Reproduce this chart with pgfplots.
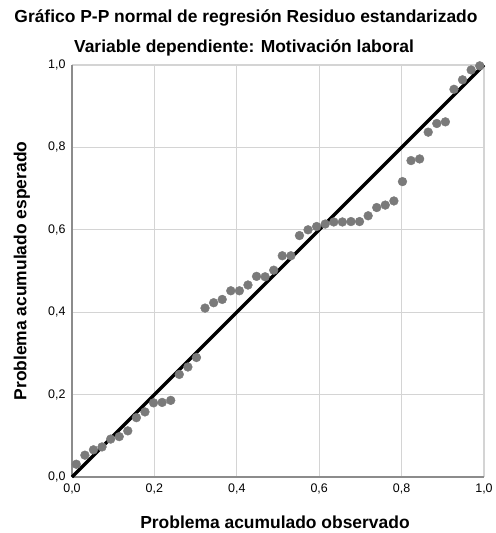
\documentclass[border=0pt]{standalone}
\usepackage{fontspec}
\setmainfont{Liberation Sans}
\usepackage{pgfplots}
\pgfplotsset{compat=1.18}
\definecolor{ptgray}{HTML}{7A7A7A}
\definecolor{gridgray}{HTML}{D4D4D4}
\definecolor{axgray}{HTML}{8C8C8C}

\begin{document}
\begin{tikzpicture}
\begin{axis}[name=ax,scale only axis,width=412bp,height=412bp,
 xmin=0,xmax=1,ymin=0,ymax=1,
 xtick={0,0.2,0.4,0.6,0.8,1},ytick={0,0.2,0.4,0.6,0.8,1},
 xticklabels={{0,0},{0,2},{0,4},{0,6},{0,8},{1,0}},
 yticklabels={{0,0},{0,2},{0,4},{0,6},{0,8},{1,0}},
 major tick length=0pt,
 axis x line*=bottom,axis y line*=left,
 axis line style={axgray,line width=1.2bp},
 grid=major,grid style={gridgray,line width=1.2bp},
 tick label style={font=\fontsize{12.5}{14}\selectfont},
 /pgf/number format/assume math mode=true,
 xticklabel style={yshift=-3bp},
 yticklabel style={xshift=-3bp},
 xlabel={\bfseries Problema acumulado observado},
 ylabel={\bfseries Problema acumulado esperado},
 label style={font=\fontsize{17.5}{20}\selectfont},
 xlabel style={at={(axis description cs:0.4927,-0.109)},anchor=center},
 ylabel style={at={(axis description cs:-0.1214,0.5)},anchor=center},
 clip=false]
\addplot[only marks,mark=*,mark size=4.4bp,ptgray,mark options={draw=none,fill=ptgray}] coordinates {
(0.0104,0.031)(0.0313,0.053)(0.0521,0.066)(0.0729,0.073)(0.0938,0.092)(0.1146,0.098)
(0.1354,0.112)(0.1563,0.144)(0.1771,0.158)(0.1979,0.180)(0.2188,0.181)(0.2396,0.186)
(0.2604,0.249)(0.2813,0.267)(0.3021,0.290)(0.3229,0.410)(0.3438,0.423)(0.3646,0.431)
(0.3854,0.452)(0.4063,0.452)(0.4271,0.466)(0.4479,0.487)(0.4688,0.486)(0.4896,0.502)
(0.5104,0.537)(0.5313,0.537)(0.5521,0.586)(0.5729,0.600)(0.5938,0.608)(0.6146,0.614)
(0.6354,0.619)(0.6563,0.619)(0.6771,0.620)(0.6979,0.620)(0.7188,0.634)(0.7396,0.654)
(0.7604,0.660)(0.7813,0.670)(0.8021,0.717)(0.8229,0.768)(0.8438,0.772)(0.8646,0.837)
(0.8854,0.858)(0.9063,0.862)(0.9271,0.941)(0.9479,0.964)(0.9688,0.988)(0.9896,0.998)};
\addplot[black,line width=3.2bp] coordinates {(0,0)(1,1)};
\end{axis}
\node[font=\bfseries\fontsize{17.5}{20}\selectfont] at ([xshift=-32bp,yshift=47bp]ax.north) {Gráfico P-P normal de regresión Residuo estandarizado};
\node[font=\bfseries\fontsize{17.5}{20}\selectfont] at ([xshift=-34bp,yshift=17bp]ax.north) {Variable dependiente: Motivación laboral};
\useasboundingbox ([xshift=-72bp,yshift=-56bp]ax.south west) rectangle ([xshift=7bp,yshift=65bp]ax.north east);
\end{tikzpicture}
\end{document}
